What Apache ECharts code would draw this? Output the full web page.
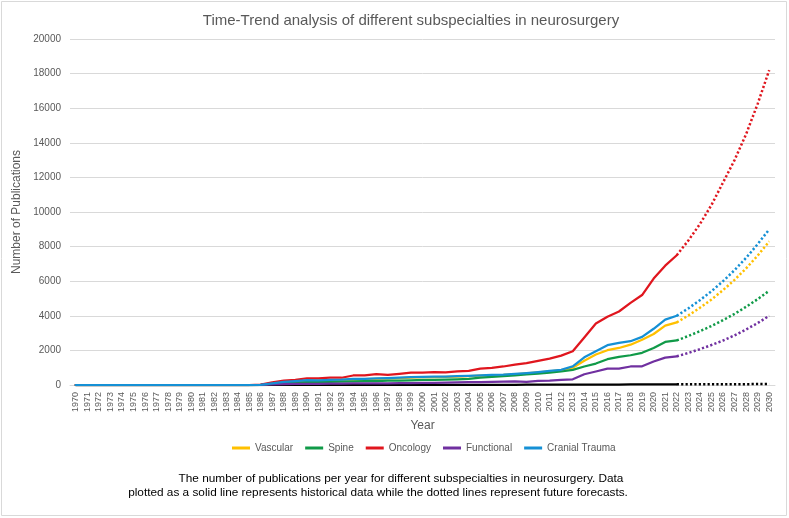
<!DOCTYPE html>
<html>
<head>
<meta charset="UTF-8">
<title>Time-Trend analysis</title>
<script src="https://cdn.jsdelivr.net/npm/echarts@6/dist/echarts.min.js"></script>
<style>
  html, body { margin: 0; padding: 0; background: #fff; }
  #chart { width: 789px; height: 518px; }
</style>
</head>
<body>
<div id="chart"></div>
<script>
// categories (x axis)
var years = ['1970','1971','1972','1973','1974','1975','1976','1977','1978','1979',
  '1980','1981','1982','1983','1984','1985','1986','1987','1988','1989',
  '1990','1991','1992','1993','1994','1995','1996','1997','1998','1999',
  '2000','2001','2002','2003','2004','2005','2006','2007','2008','2009',
  '2010','2011','2012','2013','2014','2015','2016','2017','2018','2019',
  '2020','2021','2022','2023','2024','2025','2026','2027','2028','2029','2030'];

// historical values 1970-2022
var vascular = [0,0,0,0,0,0,0,0,0,0,0,0,0,0,0,0,10,
  90,160,210,260,250,280,290,330,340,360,380,400,430,450,460,470,490,510,540,560,580,620,670,
  730,790,860,1000,1400,1760,2010,2140,2330,2620,2950,3430,3620];
var spine = [0,0,0,0,0,0,0,0,0,0,0,0,0,0,0,0,8,
  60,110,140,170,170,180,190,210,220,230,250,260,270,290,300,310,330,360,420,470,520,560,610,
  660,710,780,870,1070,1240,1490,1630,1720,1860,2140,2490,2580];
var oncology = [0,0,0,0,0,0,0,0,0,0,0,0,0,0,0,0,20,
  150,250,300,390,380,430,420,550,560,630,590,650,710,720,740,730,790,820,950,990,1070,1180,1270,
  1400,1520,1700,1950,2750,3550,3950,4250,4750,5200,6150,6900,7500];
var functional = [0,0,0,0,0,0,0,0,0,0,0,0,0,0,0,0,5,
  30,50,60,70,70,80,80,90,90,100,100,110,110,120,130,140,150,160,170,180,200,210,180,
  240,250,290,330,620,780,950,950,1070,1080,1360,1580,1660];
var cranial = [0,0,0,0,0,0,0,0,0,0,0,0,0,0,0,0,10,
  100,180,230,280,270,300,310,350,360,380,400,420,450,470,480,490,510,530,560,580,600,640,690,
  750,810,880,1080,1600,1950,2300,2430,2530,2780,3250,3780,4000];
var other = [0,0,0,0,0,0,0,0,0,0,0,0,0,0,0,0,0,
  2,3,3,4,4,5,5,6,6,7,7,8,8,9,9,10,10,11,12,12,13,14,15,
  16,17,18,20,22,24,26,28,30,32,34,36,38];

// forecast values 2022-2030
var vascularFc = [3620,4020,4460,4940,5480,6080,6740,7480,8300];
var spineFc = [2580,2830,3110,3410,3750,4110,4520,4960,5450];
var oncologyFc = [7500,8350,9300,10400,11700,13000,14500,16250,18200];
var functionalFc = [1660,1850,2070,2310,2570,2870,3210,3580,4000];
var cranialFc = [4000,4430,4900,5420,6000,6640,7350,8140,9000];
var otherFc = [38,40,42,44,46,48,50,52,54];

var names = ['Vascular','Spine','Oncology','Functional','Cranial Trauma'];
var colors = ['#FFC000','#109A48','#E0161E','#7030A0','#1590D5'];

var fontFam = '"Liberation Sans", Arial, sans-serif';

function histData(arr){
  var out = arr.slice();
  while (out.length < years.length) out.push(null);
  return out;
}
function fcData(arr){
  var out = [];
  var start = years.length - arr.length;
  for (var i = 0; i < start; i++) out.push(null);
  return out.concat(arr);
}
function solid(name, color, arr){
  return {
    name: name, type: 'line', data: histData(arr),
    symbol: 'none', showSymbol: false,
    lineStyle: { color: color, width: 2.25, cap: 'round', join: 'round' },
    itemStyle: { color: color }
  };
}
function dotted(name, color, arr){
  return {
    name: name, type: 'line', data: fcData(arr),
    symbol: 'none', showSymbol: false,
    lineStyle: { color: color, width: 2.5, type: [2.2, 2.2], cap: 'butt' },
    itemStyle: { color: color }
  };
}

var hist = [vascular, spine, oncology, functional, cranial];
var fc = [vascularFc, spineFc, oncologyFc, functionalFc, cranialFc];

var series = [solid('Other', '#000000', other), dotted('Other', '#000000', otherFc)];
for (var i = 0; i < names.length; i++) {
  series.push(solid(names[i], colors[i], hist[i]));
  series.push(dotted(names[i], colors[i], fc[i]));
}

var chart = echarts.init(document.getElementById('chart'));
chart.setOption({
  animation: false,
  backgroundColor: '#fff',
  textStyle: { fontFamily: fontFam },
  title: {
    text: 'Time-Trend analysis of different subspecialties in neurosurgery',
    left: 406, top: 8, textAlign: 'center',
    textStyle: { fontSize: 15, fontWeight: 'normal', color: '#595959', fontFamily: fontFam }
  },
  legend: {
    data: names,
    left: 227, top: 438,
    icon: 'rect', itemWidth: 18, itemHeight: 3, itemGap: 12,
    textStyle: { fontSize: 10, color: '#595959', fontFamily: fontFam }
  },
  grid: { left: 70, right: 14, top: 39, bottom: 133 },
  xAxis: {
    type: 'category',
    data: years,
    boundaryGap: true,
    name: 'Year',
    nameLocation: 'middle',
    nameGap: 34,
    nameTextStyle: { fontSize: 12, color: '#595959' },
    axisLine: { lineStyle: { color: '#d9d9d9' } },
    axisTick: { show: false },
    axisLabel: { interval: 0, rotate: 90, fontSize: 9, color: '#595959', margin: 7 }
  },
  yAxis: {
    type: 'value',
    min: 0, max: 20000, interval: 2000,
    name: 'Number of Publications',
    nameLocation: 'middle',
    nameGap: 38,
    nameTextStyle: { fontSize: 12, color: '#595959' },
    axisLine: { show: false },
    axisTick: { show: false },
    axisLabel: { fontSize: 10, color: '#595959', margin: 9,
      formatter: function (v) { return String(v); } },
    splitLine: { lineStyle: { color: '#d9d9d9', width: 1 } }
  },
  graphic: [
    { type: 'rect', shape: { x: 1.5, y: 1.5, width: 785, height: 514 },
      style: { fill: 'none', stroke: '#d9d9d9', lineWidth: 1 }, silent: true },
    { type: 'text', x: 401, y: 473,
      style: { text: 'The number of publications per year for different subspecialties in neurosurgery. Data',
        textAlign: 'center', fill: '#000', font: '11.8px ' + fontFam } },
    { type: 'text', x: 378, y: 487,
      style: { text: 'plotted as a solid line represents historical data while the dotted lines represent future forecasts.',
        textAlign: 'center', fill: '#000', font: '11.8px ' + fontFam } }
  ],
  series: series
});
</script>
</body>
</html>
